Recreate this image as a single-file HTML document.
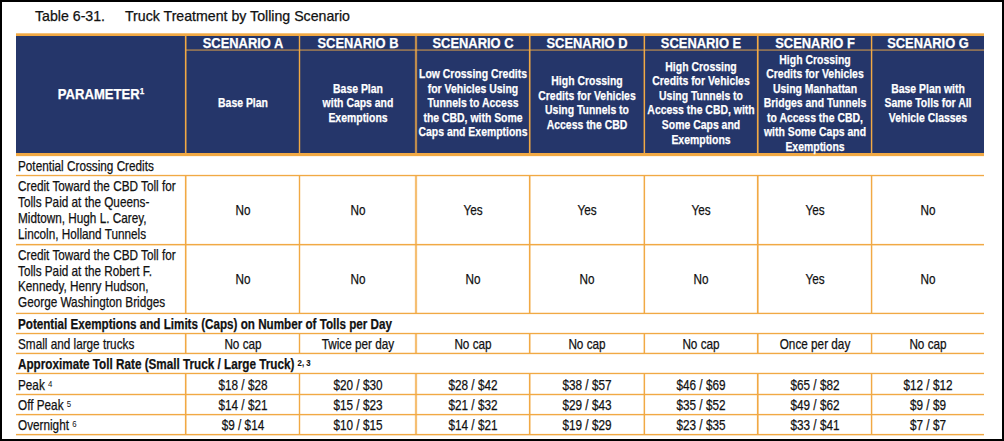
<!DOCTYPE html>
<html><head><meta charset="utf-8"><style>
html,body{margin:0;padding:0;background:#fff;}
body{width:1004px;height:441px;position:relative;overflow:hidden;font-family:"Liberation Sans",sans-serif;}
body>div{position:absolute;}
.t{white-space:nowrap;-webkit-text-stroke:0.25px currentColor;}
.sup{font-size:8.5px;position:relative;top:-5px;margin-left:0px;}
.sup2{font-size:9.5px;position:relative;top:-3.5px;-webkit-text-stroke:0.1px currentColor;}
.sup3{font-size:9.5px;position:relative;top:-3.5px;-webkit-text-stroke:0 currentColor;}
</style></head><body>
<div style="left:16px;top:36px;width:968px;height:117px;background:#25366A"></div>
<div style="left:16px;top:33px;width:968px;height:1px;background:rgba(241,169,68,0.7)"></div>
<div style="left:16px;top:34px;width:968px;height:2px;background:#F1A944"></div>
<div style="left:16px;top:153px;width:968px;height:3px;background:#F1A944"></div>
<div style="left:16px;top:156px;width:968px;height:1px;background:rgba(241,169,68,0.12)"></div>
<div style="left:186px;top:49px;width:798px;height:1px;background:rgba(241,169,68,0.4)"></div>
<div style="left:186px;top:50px;width:798px;height:1px;background:rgba(241,169,68,0.5)"></div>
<div style="left:185px;top:36px;width:1px;height:117px;background:rgba(241,169,68,1.0)"></div>
<div style="left:186px;top:36px;width:1px;height:117px;background:rgba(241,169,68,0.5)"></div>
<div style="left:184px;top:36px;width:1px;height:117px;background:rgba(241,169,68,0.1)"></div>
<div style="left:299px;top:36px;width:1px;height:117px;background:rgba(241,169,68,1.0)"></div>
<div style="left:300px;top:36px;width:1px;height:117px;background:rgba(241,169,68,0.2)"></div>
<div style="left:298px;top:36px;width:1px;height:117px;background:rgba(241,169,68,0.2)"></div>
<div style="left:415px;top:36px;width:1px;height:117px;background:rgba(241,169,68,0.75)"></div>
<div style="left:416px;top:36px;width:1px;height:117px;background:rgba(241,169,68,0.75)"></div>
<div style="left:414px;top:36px;width:1px;height:117px;background:rgba(241,169,68,0.1)"></div>
<div style="left:417px;top:36px;width:1px;height:117px;background:rgba(241,169,68,0.1)"></div>
<div style="left:529px;top:36px;width:1px;height:117px;background:rgba(241,169,68,1.0)"></div>
<div style="left:530px;top:36px;width:1px;height:117px;background:rgba(241,169,68,0.5)"></div>
<div style="left:528px;top:36px;width:1px;height:117px;background:rgba(241,169,68,0.1)"></div>
<div style="left:644px;top:36px;width:1px;height:117px;background:rgba(241,169,68,1.0)"></div>
<div style="left:643px;top:36px;width:1px;height:117px;background:rgba(241,169,68,0.4)"></div>
<div style="left:645px;top:36px;width:1px;height:117px;background:rgba(241,169,68,0.1)"></div>
<div style="left:757px;top:36px;width:1px;height:117px;background:rgba(241,169,68,1.0)"></div>
<div style="left:758px;top:36px;width:1px;height:117px;background:rgba(241,169,68,0.6)"></div>
<div style="left:756px;top:36px;width:1px;height:117px;background:rgba(241,169,68,0.1)"></div>
<div style="left:871px;top:36px;width:1px;height:117px;background:rgba(241,169,68,1.0)"></div>
<div style="left:872px;top:36px;width:1px;height:117px;background:rgba(241,169,68,0.3)"></div>
<div style="left:870px;top:36px;width:1px;height:117px;background:rgba(241,169,68,0.15)"></div>
<div style="left:16px;top:175px;width:968px;height:1px;background:rgba(241,169,68,1.0)"></div>
<div style="left:16px;top:174px;width:968px;height:1px;background:rgba(241,169,68,0.15)"></div>
<div style="left:16px;top:176px;width:968px;height:1px;background:rgba(241,169,68,0.2)"></div>
<div style="left:16px;top:244px;width:968px;height:1px;background:rgba(241,169,68,1.0)"></div>
<div style="left:16px;top:245px;width:968px;height:1px;background:rgba(241,169,68,0.4)"></div>
<div style="left:16px;top:243px;width:968px;height:1px;background:rgba(241,169,68,0.1)"></div>
<div style="left:16px;top:313px;width:968px;height:1px;background:rgba(241,169,68,1.0)"></div>
<div style="left:16px;top:312px;width:968px;height:1px;background:rgba(241,169,68,0.25)"></div>
<div style="left:16px;top:314px;width:968px;height:1px;background:rgba(241,169,68,0.1)"></div>
<div style="left:16px;top:333px;width:968px;height:1px;background:rgba(241,169,68,1.0)"></div>
<div style="left:16px;top:332px;width:968px;height:1px;background:rgba(241,169,68,0.15)"></div>
<div style="left:16px;top:334px;width:968px;height:1px;background:rgba(241,169,68,0.2)"></div>
<div style="left:16px;top:353px;width:968px;height:1px;background:rgba(241,169,68,1.0)"></div>
<div style="left:16px;top:352px;width:968px;height:1px;background:rgba(241,169,68,0.25)"></div>
<div style="left:16px;top:354px;width:968px;height:1px;background:rgba(241,169,68,0.15)"></div>
<div style="left:16px;top:373px;width:968px;height:1px;background:rgba(241,169,68,1.0)"></div>
<div style="left:16px;top:372px;width:968px;height:1px;background:rgba(241,169,68,0.2)"></div>
<div style="left:16px;top:374px;width:968px;height:1px;background:rgba(241,169,68,0.15)"></div>
<div style="left:16px;top:394px;width:968px;height:1px;background:rgba(241,169,68,1.0)"></div>
<div style="left:16px;top:393px;width:968px;height:1px;background:rgba(241,169,68,0.2)"></div>
<div style="left:16px;top:395px;width:968px;height:1px;background:rgba(241,169,68,0.2)"></div>
<div style="left:16px;top:414px;width:968px;height:1px;background:rgba(241,169,68,1.0)"></div>
<div style="left:16px;top:415px;width:968px;height:1px;background:rgba(241,169,68,0.3)"></div>
<div style="left:16px;top:413px;width:968px;height:1px;background:rgba(241,169,68,0.1)"></div>
<div style="left:16px;top:434px;width:968px;height:1px;background:rgba(241,169,68,1.0)"></div>
<div style="left:16px;top:435px;width:968px;height:1px;background:rgba(241,169,68,0.35)"></div>
<div style="left:16px;top:433px;width:968px;height:1px;background:rgba(241,169,68,0.1)"></div>
<div style="left:185px;top:176px;width:1px;height:137px;background:rgba(241,169,68,1.0)"></div>
<div style="left:186px;top:176px;width:1px;height:137px;background:rgba(241,169,68,0.5)"></div>
<div style="left:184px;top:176px;width:1px;height:137px;background:rgba(241,169,68,0.1)"></div>
<div style="left:299px;top:176px;width:1px;height:137px;background:rgba(241,169,68,1.0)"></div>
<div style="left:300px;top:176px;width:1px;height:137px;background:rgba(241,169,68,0.2)"></div>
<div style="left:298px;top:176px;width:1px;height:137px;background:rgba(241,169,68,0.2)"></div>
<div style="left:415px;top:176px;width:1px;height:137px;background:rgba(241,169,68,0.75)"></div>
<div style="left:416px;top:176px;width:1px;height:137px;background:rgba(241,169,68,0.75)"></div>
<div style="left:414px;top:176px;width:1px;height:137px;background:rgba(241,169,68,0.1)"></div>
<div style="left:417px;top:176px;width:1px;height:137px;background:rgba(241,169,68,0.1)"></div>
<div style="left:529px;top:176px;width:1px;height:137px;background:rgba(241,169,68,1.0)"></div>
<div style="left:530px;top:176px;width:1px;height:137px;background:rgba(241,169,68,0.5)"></div>
<div style="left:528px;top:176px;width:1px;height:137px;background:rgba(241,169,68,0.1)"></div>
<div style="left:644px;top:176px;width:1px;height:137px;background:rgba(241,169,68,1.0)"></div>
<div style="left:643px;top:176px;width:1px;height:137px;background:rgba(241,169,68,0.4)"></div>
<div style="left:645px;top:176px;width:1px;height:137px;background:rgba(241,169,68,0.1)"></div>
<div style="left:757px;top:176px;width:1px;height:137px;background:rgba(241,169,68,1.0)"></div>
<div style="left:758px;top:176px;width:1px;height:137px;background:rgba(241,169,68,0.6)"></div>
<div style="left:756px;top:176px;width:1px;height:137px;background:rgba(241,169,68,0.1)"></div>
<div style="left:871px;top:176px;width:1px;height:137px;background:rgba(241,169,68,1.0)"></div>
<div style="left:872px;top:176px;width:1px;height:137px;background:rgba(241,169,68,0.3)"></div>
<div style="left:870px;top:176px;width:1px;height:137px;background:rgba(241,169,68,0.15)"></div>
<div style="left:185px;top:334px;width:1px;height:19px;background:rgba(241,169,68,1.0)"></div>
<div style="left:186px;top:334px;width:1px;height:19px;background:rgba(241,169,68,0.5)"></div>
<div style="left:184px;top:334px;width:1px;height:19px;background:rgba(241,169,68,0.1)"></div>
<div style="left:299px;top:334px;width:1px;height:19px;background:rgba(241,169,68,1.0)"></div>
<div style="left:300px;top:334px;width:1px;height:19px;background:rgba(241,169,68,0.2)"></div>
<div style="left:298px;top:334px;width:1px;height:19px;background:rgba(241,169,68,0.2)"></div>
<div style="left:415px;top:334px;width:1px;height:19px;background:rgba(241,169,68,0.75)"></div>
<div style="left:416px;top:334px;width:1px;height:19px;background:rgba(241,169,68,0.75)"></div>
<div style="left:414px;top:334px;width:1px;height:19px;background:rgba(241,169,68,0.1)"></div>
<div style="left:417px;top:334px;width:1px;height:19px;background:rgba(241,169,68,0.1)"></div>
<div style="left:529px;top:334px;width:1px;height:19px;background:rgba(241,169,68,1.0)"></div>
<div style="left:530px;top:334px;width:1px;height:19px;background:rgba(241,169,68,0.5)"></div>
<div style="left:528px;top:334px;width:1px;height:19px;background:rgba(241,169,68,0.1)"></div>
<div style="left:644px;top:334px;width:1px;height:19px;background:rgba(241,169,68,1.0)"></div>
<div style="left:643px;top:334px;width:1px;height:19px;background:rgba(241,169,68,0.4)"></div>
<div style="left:645px;top:334px;width:1px;height:19px;background:rgba(241,169,68,0.1)"></div>
<div style="left:757px;top:334px;width:1px;height:19px;background:rgba(241,169,68,1.0)"></div>
<div style="left:758px;top:334px;width:1px;height:19px;background:rgba(241,169,68,0.6)"></div>
<div style="left:756px;top:334px;width:1px;height:19px;background:rgba(241,169,68,0.1)"></div>
<div style="left:871px;top:334px;width:1px;height:19px;background:rgba(241,169,68,1.0)"></div>
<div style="left:872px;top:334px;width:1px;height:19px;background:rgba(241,169,68,0.3)"></div>
<div style="left:870px;top:334px;width:1px;height:19px;background:rgba(241,169,68,0.15)"></div>
<div style="left:185px;top:374px;width:1px;height:60px;background:rgba(241,169,68,1.0)"></div>
<div style="left:186px;top:374px;width:1px;height:60px;background:rgba(241,169,68,0.5)"></div>
<div style="left:184px;top:374px;width:1px;height:60px;background:rgba(241,169,68,0.1)"></div>
<div style="left:299px;top:374px;width:1px;height:60px;background:rgba(241,169,68,1.0)"></div>
<div style="left:300px;top:374px;width:1px;height:60px;background:rgba(241,169,68,0.2)"></div>
<div style="left:298px;top:374px;width:1px;height:60px;background:rgba(241,169,68,0.2)"></div>
<div style="left:415px;top:374px;width:1px;height:60px;background:rgba(241,169,68,0.75)"></div>
<div style="left:416px;top:374px;width:1px;height:60px;background:rgba(241,169,68,0.75)"></div>
<div style="left:414px;top:374px;width:1px;height:60px;background:rgba(241,169,68,0.1)"></div>
<div style="left:417px;top:374px;width:1px;height:60px;background:rgba(241,169,68,0.1)"></div>
<div style="left:529px;top:374px;width:1px;height:60px;background:rgba(241,169,68,1.0)"></div>
<div style="left:530px;top:374px;width:1px;height:60px;background:rgba(241,169,68,0.5)"></div>
<div style="left:528px;top:374px;width:1px;height:60px;background:rgba(241,169,68,0.1)"></div>
<div style="left:644px;top:374px;width:1px;height:60px;background:rgba(241,169,68,1.0)"></div>
<div style="left:643px;top:374px;width:1px;height:60px;background:rgba(241,169,68,0.4)"></div>
<div style="left:645px;top:374px;width:1px;height:60px;background:rgba(241,169,68,0.1)"></div>
<div style="left:757px;top:374px;width:1px;height:60px;background:rgba(241,169,68,1.0)"></div>
<div style="left:758px;top:374px;width:1px;height:60px;background:rgba(241,169,68,0.6)"></div>
<div style="left:756px;top:374px;width:1px;height:60px;background:rgba(241,169,68,0.1)"></div>
<div style="left:871px;top:374px;width:1px;height:60px;background:rgba(241,169,68,1.0)"></div>
<div style="left:872px;top:374px;width:1px;height:60px;background:rgba(241,169,68,0.3)"></div>
<div style="left:870px;top:374px;width:1px;height:60px;background:rgba(241,169,68,0.15)"></div>
<div class="t" style="left:35.10px;top:8px;font-size:14.3px;line-height:17.16px;color:#111;transform:scaleX(0.99);transform-origin:0 50%;">Table 6-31.</div>
<div class="t" style="left:125.30px;top:8px;font-size:14.3px;line-height:17.16px;color:#111;transform:scaleX(0.99);transform-origin:0 50%;">Truck Treatment by Tolling Scenario</div>
<div class="t" style="left:242.60px;top:36px;font-size:13.8px;line-height:16.56px;font-weight:bold;color:#fff;transform:translateX(-50%) scaleX(0.935);">SCENARIO A</div>
<div class="t" style="left:357.70px;top:36px;font-size:13.8px;line-height:16.56px;font-weight:bold;color:#fff;transform:translateX(-50%) scaleX(0.935);">SCENARIO B</div>
<div class="t" style="left:472.70px;top:36px;font-size:13.8px;line-height:16.56px;font-weight:bold;color:#fff;transform:translateX(-50%) scaleX(0.935);">SCENARIO C</div>
<div class="t" style="left:586.90px;top:36px;font-size:13.8px;line-height:16.56px;font-weight:bold;color:#fff;transform:translateX(-50%) scaleX(0.935);">SCENARIO D</div>
<div class="t" style="left:701.10px;top:36px;font-size:13.8px;line-height:16.56px;font-weight:bold;color:#fff;transform:translateX(-50%) scaleX(0.935);">SCENARIO E</div>
<div class="t" style="left:814.60px;top:36px;font-size:13.8px;line-height:16.56px;font-weight:bold;color:#fff;transform:translateX(-50%) scaleX(0.935);">SCENARIO F</div>
<div class="t" style="left:927.70px;top:36px;font-size:13.8px;line-height:16.56px;font-weight:bold;color:#fff;transform:translateX(-50%) scaleX(0.935);">SCENARIO G</div>
<div class="t" style="left:100.85px;top:87px;font-size:13.8px;line-height:16.56px;font-weight:bold;color:#fff;transform:translateX(-50%) scaleX(0.947);">PARAMETER<span class="sup">1</span></div>
<div class="t" style="left:242.60px;top:95px;font-size:13.6px;line-height:16.32px;font-weight:bold;color:#fff;transform:translateX(-50%) scaleX(0.768);">Base Plan</div>
<div class="t" style="left:357.70px;top:81px;font-size:13.6px;line-height:16.32px;font-weight:bold;color:#fff;transform:translateX(-50%) scaleX(0.768);">Base Plan</div>
<div class="t" style="left:357.70px;top:95px;font-size:13.6px;line-height:16.32px;font-weight:bold;color:#fff;transform:translateX(-50%) scaleX(0.768);">with Caps and</div>
<div class="t" style="left:357.70px;top:110px;font-size:13.6px;line-height:16.32px;font-weight:bold;color:#fff;transform:translateX(-50%) scaleX(0.768);">Exemptions</div>
<div class="t" style="left:472.70px;top:66px;font-size:13.6px;line-height:16.32px;font-weight:bold;color:#fff;transform:translateX(-50%) scaleX(0.768);">Low Crossing Credits</div>
<div class="t" style="left:472.70px;top:81px;font-size:13.6px;line-height:16.32px;font-weight:bold;color:#fff;transform:translateX(-50%) scaleX(0.768);">for Vehicles Using</div>
<div class="t" style="left:472.70px;top:95px;font-size:13.6px;line-height:16.32px;font-weight:bold;color:#fff;transform:translateX(-50%) scaleX(0.768);">Tunnels to Access</div>
<div class="t" style="left:472.70px;top:110px;font-size:13.6px;line-height:16.32px;font-weight:bold;color:#fff;transform:translateX(-50%) scaleX(0.768);">the CBD, with Some</div>
<div class="t" style="left:472.70px;top:124px;font-size:13.6px;line-height:16.32px;font-weight:bold;color:#fff;transform:translateX(-50%) scaleX(0.768);">Caps and Exemptions</div>
<div class="t" style="left:586.90px;top:73px;font-size:13.6px;line-height:16.32px;font-weight:bold;color:#fff;transform:translateX(-50%) scaleX(0.768);">High Crossing</div>
<div class="t" style="left:586.90px;top:88px;font-size:13.6px;line-height:16.32px;font-weight:bold;color:#fff;transform:translateX(-50%) scaleX(0.768);">Credits for Vehicles</div>
<div class="t" style="left:586.90px;top:102px;font-size:13.6px;line-height:16.32px;font-weight:bold;color:#fff;transform:translateX(-50%) scaleX(0.768);">Using Tunnels to</div>
<div class="t" style="left:586.90px;top:117px;font-size:13.6px;line-height:16.32px;font-weight:bold;color:#fff;transform:translateX(-50%) scaleX(0.768);">Access the CBD</div>
<div class="t" style="left:701.10px;top:59px;font-size:13.6px;line-height:16.32px;font-weight:bold;color:#fff;transform:translateX(-50%) scaleX(0.768);">High Crossing</div>
<div class="t" style="left:701.10px;top:73px;font-size:13.6px;line-height:16.32px;font-weight:bold;color:#fff;transform:translateX(-50%) scaleX(0.768);">Credits for Vehicles</div>
<div class="t" style="left:701.10px;top:88px;font-size:13.6px;line-height:16.32px;font-weight:bold;color:#fff;transform:translateX(-50%) scaleX(0.768);">Using Tunnels to</div>
<div class="t" style="left:701.10px;top:102px;font-size:13.6px;line-height:16.32px;font-weight:bold;color:#fff;transform:translateX(-50%) scaleX(0.768);">Access the CBD, with</div>
<div class="t" style="left:701.10px;top:117px;font-size:13.6px;line-height:16.32px;font-weight:bold;color:#fff;transform:translateX(-50%) scaleX(0.768);">Some Caps and</div>
<div class="t" style="left:701.10px;top:132px;font-size:13.6px;line-height:16.32px;font-weight:bold;color:#fff;transform:translateX(-50%) scaleX(0.768);">Exemptions</div>
<div class="t" style="left:814.60px;top:52px;font-size:13.6px;line-height:16.32px;font-weight:bold;color:#fff;transform:translateX(-50%) scaleX(0.768);">High Crossing</div>
<div class="t" style="left:814.60px;top:66px;font-size:13.6px;line-height:16.32px;font-weight:bold;color:#fff;transform:translateX(-50%) scaleX(0.768);">Credits for Vehicles</div>
<div class="t" style="left:814.60px;top:81px;font-size:13.6px;line-height:16.32px;font-weight:bold;color:#fff;transform:translateX(-50%) scaleX(0.768);">Using Manhattan</div>
<div class="t" style="left:814.60px;top:95px;font-size:13.6px;line-height:16.32px;font-weight:bold;color:#fff;transform:translateX(-50%) scaleX(0.768);">Bridges and Tunnels</div>
<div class="t" style="left:814.60px;top:110px;font-size:13.6px;line-height:16.32px;font-weight:bold;color:#fff;transform:translateX(-50%) scaleX(0.768);">to Access the CBD,</div>
<div class="t" style="left:814.60px;top:124px;font-size:13.6px;line-height:16.32px;font-weight:bold;color:#fff;transform:translateX(-50%) scaleX(0.768);">with Some Caps and</div>
<div class="t" style="left:814.60px;top:139px;font-size:13.6px;line-height:16.32px;font-weight:bold;color:#fff;transform:translateX(-50%) scaleX(0.768);">Exemptions</div>
<div class="t" style="left:927.70px;top:81px;font-size:13.6px;line-height:16.32px;font-weight:bold;color:#fff;transform:translateX(-50%) scaleX(0.768);">Base Plan with</div>
<div class="t" style="left:927.70px;top:95px;font-size:13.6px;line-height:16.32px;font-weight:bold;color:#fff;transform:translateX(-50%) scaleX(0.768);">Same Tolls for All</div>
<div class="t" style="left:927.70px;top:110px;font-size:13.6px;line-height:16.32px;font-weight:bold;color:#fff;transform:translateX(-50%) scaleX(0.768);">Vehicle Classes</div>
<div class="t" style="left:18.00px;top:158px;font-size:14.3px;line-height:17.16px;color:#111;transform:scaleX(0.822);transform-origin:0 50%;">Potential Crossing Credits</div>
<div class="t" style="left:18.00px;top:178px;font-size:14.3px;line-height:17.16px;color:#111;transform:scaleX(0.822);transform-origin:0 50%;">Credit Toward the CBD Toll for</div>
<div class="t" style="left:18.00px;top:194px;font-size:14.3px;line-height:17.16px;color:#111;transform:scaleX(0.822);transform-origin:0 50%;">Tolls Paid at the Queens-</div>
<div class="t" style="left:18.00px;top:210px;font-size:14.3px;line-height:17.16px;color:#111;transform:scaleX(0.822);transform-origin:0 50%;">Midtown, Hugh L. Carey,</div>
<div class="t" style="left:18.00px;top:226px;font-size:14.3px;line-height:17.16px;color:#111;transform:scaleX(0.822);transform-origin:0 50%;">Lincoln, Holland Tunnels</div>
<div class="t" style="left:18.00px;top:247px;font-size:14.3px;line-height:17.16px;color:#111;transform:scaleX(0.822);transform-origin:0 50%;">Credit Toward the CBD Toll for</div>
<div class="t" style="left:18.00px;top:263px;font-size:14.3px;line-height:17.16px;color:#111;transform:scaleX(0.822);transform-origin:0 50%;">Tolls Paid at the Robert F.</div>
<div class="t" style="left:18.00px;top:278px;font-size:14.3px;line-height:17.16px;color:#111;transform:scaleX(0.822);transform-origin:0 50%;">Kennedy, Henry Hudson,</div>
<div class="t" style="left:18.00px;top:294px;font-size:14.3px;line-height:17.16px;color:#111;transform:scaleX(0.822);transform-origin:0 50%;">George Washington Bridges</div>
<div class="t" style="left:242.60px;top:202px;font-size:14.3px;line-height:17.16px;color:#111;transform:translateX(-50%) scaleX(0.822);">No</div>
<div class="t" style="left:242.60px;top:271px;font-size:14.3px;line-height:17.16px;color:#111;transform:translateX(-50%) scaleX(0.822);">No</div>
<div class="t" style="left:357.70px;top:202px;font-size:14.3px;line-height:17.16px;color:#111;transform:translateX(-50%) scaleX(0.822);">No</div>
<div class="t" style="left:357.70px;top:271px;font-size:14.3px;line-height:17.16px;color:#111;transform:translateX(-50%) scaleX(0.822);">No</div>
<div class="t" style="left:472.70px;top:202px;font-size:14.3px;line-height:17.16px;color:#111;transform:translateX(-50%) scaleX(0.822);">Yes</div>
<div class="t" style="left:472.70px;top:271px;font-size:14.3px;line-height:17.16px;color:#111;transform:translateX(-50%) scaleX(0.822);">No</div>
<div class="t" style="left:586.90px;top:202px;font-size:14.3px;line-height:17.16px;color:#111;transform:translateX(-50%) scaleX(0.822);">Yes</div>
<div class="t" style="left:586.90px;top:271px;font-size:14.3px;line-height:17.16px;color:#111;transform:translateX(-50%) scaleX(0.822);">No</div>
<div class="t" style="left:701.10px;top:202px;font-size:14.3px;line-height:17.16px;color:#111;transform:translateX(-50%) scaleX(0.822);">Yes</div>
<div class="t" style="left:701.10px;top:271px;font-size:14.3px;line-height:17.16px;color:#111;transform:translateX(-50%) scaleX(0.822);">No</div>
<div class="t" style="left:814.60px;top:202px;font-size:14.3px;line-height:17.16px;color:#111;transform:translateX(-50%) scaleX(0.822);">Yes</div>
<div class="t" style="left:814.60px;top:271px;font-size:14.3px;line-height:17.16px;color:#111;transform:translateX(-50%) scaleX(0.822);">Yes</div>
<div class="t" style="left:927.70px;top:202px;font-size:14.3px;line-height:17.16px;color:#111;transform:translateX(-50%) scaleX(0.822);">No</div>
<div class="t" style="left:927.70px;top:271px;font-size:14.3px;line-height:17.16px;color:#111;transform:translateX(-50%) scaleX(0.822);">No</div>
<div class="t" style="left:18.00px;top:316px;font-size:14.3px;line-height:17.16px;font-weight:bold;color:#111;transform:scaleX(0.815);transform-origin:0 50%;">Potential Exemptions and Limits (Caps) on Number of Tolls per Day</div>
<div class="t" style="left:18.00px;top:336px;font-size:14.3px;line-height:17.16px;color:#111;transform:scaleX(0.822);transform-origin:0 50%;">Small and large trucks</div>
<div class="t" style="left:242.60px;top:336px;font-size:14.3px;line-height:17.16px;color:#111;transform:translateX(-50%) scaleX(0.822);">No cap</div>
<div class="t" style="left:357.70px;top:336px;font-size:14.3px;line-height:17.16px;color:#111;transform:translateX(-50%) scaleX(0.822);">Twice per day</div>
<div class="t" style="left:472.70px;top:336px;font-size:14.3px;line-height:17.16px;color:#111;transform:translateX(-50%) scaleX(0.822);">No cap</div>
<div class="t" style="left:586.90px;top:336px;font-size:14.3px;line-height:17.16px;color:#111;transform:translateX(-50%) scaleX(0.822);">No cap</div>
<div class="t" style="left:701.10px;top:336px;font-size:14.3px;line-height:17.16px;color:#111;transform:translateX(-50%) scaleX(0.822);">No cap</div>
<div class="t" style="left:814.60px;top:336px;font-size:14.3px;line-height:17.16px;color:#111;transform:translateX(-50%) scaleX(0.822);">Once per day</div>
<div class="t" style="left:927.70px;top:336px;font-size:14.3px;line-height:17.16px;color:#111;transform:translateX(-50%) scaleX(0.822);">No cap</div>
<div class="t" style="left:18.00px;top:356px;font-size:14.3px;line-height:17.16px;font-weight:bold;color:#111;transform:scaleX(0.819);transform-origin:0 50%;">Approximate Toll Rate (Small Truck / Large Truck) <span class="sup2">2, 3</span></div>
<div class="t" style="left:18.00px;top:377px;font-size:14.3px;line-height:17.16px;color:#111;transform:scaleX(0.822);transform-origin:0 50%;">Peak <span class="sup3">4</span></div>
<div class="t" style="left:242.60px;top:377px;font-size:14.3px;line-height:17.16px;color:#111;transform:translateX(-50%) scaleX(0.822);">$18 / $28</div>
<div class="t" style="left:357.70px;top:377px;font-size:14.3px;line-height:17.16px;color:#111;transform:translateX(-50%) scaleX(0.822);">$20 / $30</div>
<div class="t" style="left:472.70px;top:377px;font-size:14.3px;line-height:17.16px;color:#111;transform:translateX(-50%) scaleX(0.822);">$28 / $42</div>
<div class="t" style="left:586.90px;top:377px;font-size:14.3px;line-height:17.16px;color:#111;transform:translateX(-50%) scaleX(0.822);">$38 / $57</div>
<div class="t" style="left:701.10px;top:377px;font-size:14.3px;line-height:17.16px;color:#111;transform:translateX(-50%) scaleX(0.822);">$46 / $69</div>
<div class="t" style="left:814.60px;top:377px;font-size:14.3px;line-height:17.16px;color:#111;transform:translateX(-50%) scaleX(0.822);">$65 / $82</div>
<div class="t" style="left:927.70px;top:377px;font-size:14.3px;line-height:17.16px;color:#111;transform:translateX(-50%) scaleX(0.822);">$12 / $12</div>
<div class="t" style="left:18.00px;top:397px;font-size:14.3px;line-height:17.16px;color:#111;transform:scaleX(0.822);transform-origin:0 50%;">Off Peak <span class="sup3">5</span></div>
<div class="t" style="left:242.60px;top:397px;font-size:14.3px;line-height:17.16px;color:#111;transform:translateX(-50%) scaleX(0.822);">$14 / $21</div>
<div class="t" style="left:357.70px;top:397px;font-size:14.3px;line-height:17.16px;color:#111;transform:translateX(-50%) scaleX(0.822);">$15 / $23</div>
<div class="t" style="left:472.70px;top:397px;font-size:14.3px;line-height:17.16px;color:#111;transform:translateX(-50%) scaleX(0.822);">$21 / $32</div>
<div class="t" style="left:586.90px;top:397px;font-size:14.3px;line-height:17.16px;color:#111;transform:translateX(-50%) scaleX(0.822);">$29 / $43</div>
<div class="t" style="left:701.10px;top:397px;font-size:14.3px;line-height:17.16px;color:#111;transform:translateX(-50%) scaleX(0.822);">$35 / $52</div>
<div class="t" style="left:814.60px;top:397px;font-size:14.3px;line-height:17.16px;color:#111;transform:translateX(-50%) scaleX(0.822);">$49 / $62</div>
<div class="t" style="left:927.70px;top:397px;font-size:14.3px;line-height:17.16px;color:#111;transform:translateX(-50%) scaleX(0.822);">$9 / $9</div>
<div class="t" style="left:18.00px;top:417px;font-size:14.3px;line-height:17.16px;color:#111;transform:scaleX(0.822);transform-origin:0 50%;">Overnight <span class="sup3">6</span></div>
<div class="t" style="left:242.60px;top:417px;font-size:14.3px;line-height:17.16px;color:#111;transform:translateX(-50%) scaleX(0.822);">$9 / $14</div>
<div class="t" style="left:357.70px;top:417px;font-size:14.3px;line-height:17.16px;color:#111;transform:translateX(-50%) scaleX(0.822);">$10 / $15</div>
<div class="t" style="left:472.70px;top:417px;font-size:14.3px;line-height:17.16px;color:#111;transform:translateX(-50%) scaleX(0.822);">$14 / $21</div>
<div class="t" style="left:586.90px;top:417px;font-size:14.3px;line-height:17.16px;color:#111;transform:translateX(-50%) scaleX(0.822);">$19 / $29</div>
<div class="t" style="left:701.10px;top:417px;font-size:14.3px;line-height:17.16px;color:#111;transform:translateX(-50%) scaleX(0.822);">$23 / $35</div>
<div class="t" style="left:814.60px;top:417px;font-size:14.3px;line-height:17.16px;color:#111;transform:translateX(-50%) scaleX(0.822);">$33 / $41</div>
<div class="t" style="left:927.70px;top:417px;font-size:14.3px;line-height:17.16px;color:#111;transform:translateX(-50%) scaleX(0.822);">$7 / $7</div>
<div style="left:0px;top:0px;width:1004px;height:2px;background:#000"></div>
<div style="left:0px;top:0px;width:2px;height:441px;background:#000"></div>
<div style="left:1002px;top:0px;width:2px;height:441px;background:#000"></div>
<div style="left:0px;top:439px;width:1004px;height:2px;background:#000"></div>
</body></html>
